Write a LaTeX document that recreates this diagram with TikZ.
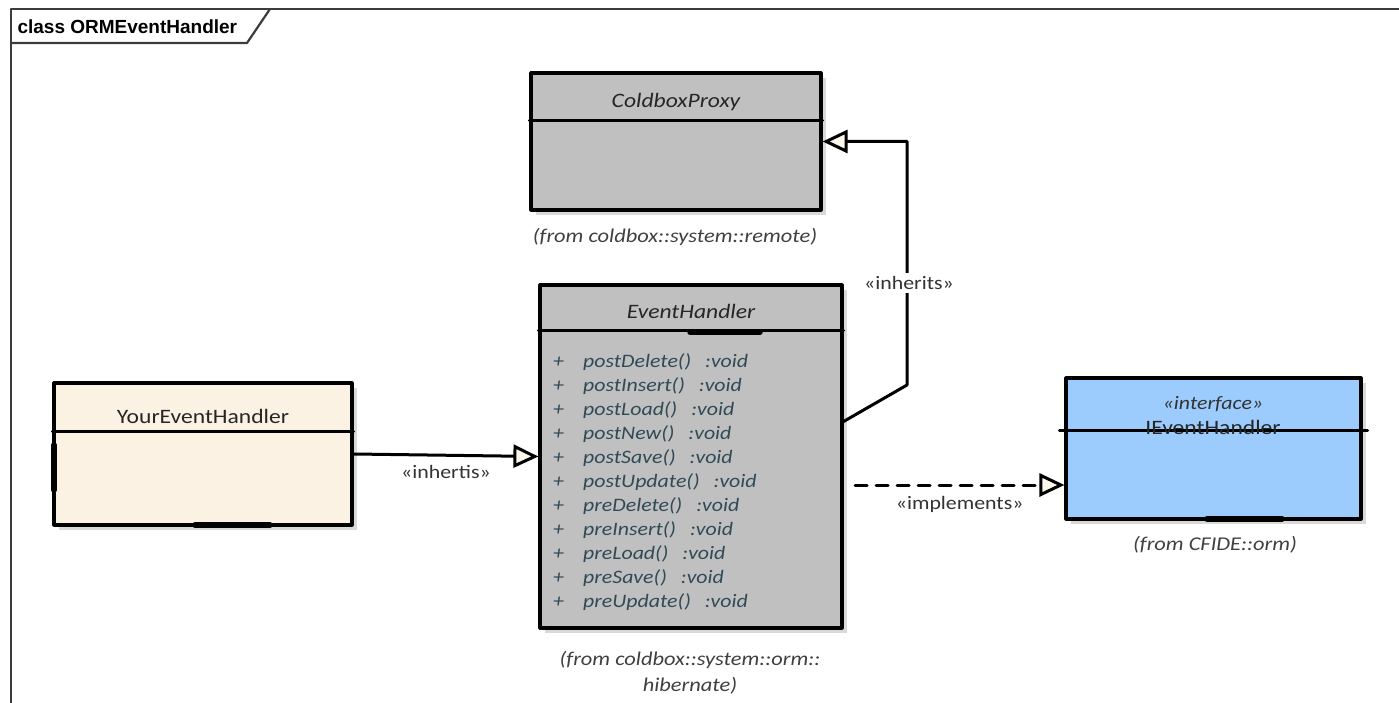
\documentclass[tikz,border=0pt]{standalone}
\usepackage{fontspec}
\setmainfont{Carlito}
\newfontfamily\hand{Carlito}[FakeStretch=1.15]
\newfontfamily\titlefont{Liberation Sans}
\usetikzlibrary{arrows.meta,shadows}

\definecolor{classgray}{RGB}{192,192,192}
\definecolor{classcream}{RGB}{251,242,228}
\definecolor{classblue}{RGB}{156,204,253}
\definecolor{opcolor}{RGB}{48,74,86}
\definecolor{tipfill}{RGB}{252,247,236}
\definecolor{framecol}{RGB}{60,60,60}

\tikzset{
  classbox/.style={draw, line width=3.2pt, inner sep=0pt,
    drop shadow={shadow xshift=5pt, shadow yshift=-5pt, opacity=0.3}},
  divider/.style={line width=2.8pt},
  classname/.style={font=\hand\fontsize{20.5}{22}\selectfont, text=black!85},
  optext/.style={font=\hand\itshape\fontsize{19}{20}\selectfont, text=opcolor, anchor=west, inner sep=0pt},
  fromtext/.style={font=\hand\itshape\fontsize{19.5}{26}\selectfont, text=black!75, align=center},
  stereo/.style={font=\hand\fontsize{19}{21}\selectfont, text=black!80},
  gen/.style={line width=3pt, -{Triangle[length=25pt, width=23pt, fill=tipfill]}},
  smudge/.style={line width=5.5pt}
}

\begin{document}
\begin{tikzpicture}[x=1pt, y=-1pt, line cap=round, line join=round]

  \useasboundingbox (0,0) rectangle (1399,703);

  % frame
  \draw[framecol, line width=2.2pt] (11,703) -- (11,9) -- (1399,9);
  \draw[framecol, line width=2.2pt] (11,43) -- (247,43) -- (270,9);
  \node[anchor=west, font=\titlefont\bfseries\fontsize{19}{21}\selectfont] (title) at (14,27) {class ORMEventHandler};

  % classes
  \node[classbox, fill=classgray, minimum width=290pt, minimum height=137pt] (proxy) at (676,141.5) {};
  \node[classbox, fill=classgray, minimum width=302pt, minimum height=343pt] (handler) at (691,456.5) {};
  \node[classbox, fill=classcream, minimum width=298pt, minimum height=142pt] (yours) at (203,454) {};
  \node[classbox, fill=classblue, minimum width=295pt, minimum height=141pt] (iface) at (1213.5,448.5) {};

  \draw[divider] ([yshift=-49pt]proxy.north west) -- ([yshift=-49pt]proxy.north east);
  \draw[divider] ([yshift=-47pt]handler.north west) -- ([yshift=-47pt]handler.north east);
  \draw[divider] ([yshift=-50pt]yours.north west) -- ([yshift=-50pt]yours.north east);
  \draw[divider] ([xshift=-5pt,yshift=-54pt]iface.north west) -- ([xshift=5pt,yshift=-54pt]iface.north east);

  \draw[smudge] (690,332) -- (760,332);
  \draw[smudge] (195,525) -- (270,525);
  \draw[smudge] (54,445) -- (54,490);
  \draw[smudge] (1207,519) -- (1282,519);

  \node[classname, font=\hand\itshape\fontsize{20.5}{22}\selectfont] (proxyname) at (676,102) {ColdboxProxy};
  \node[classname, font=\hand\itshape\fontsize{20.5}{22}\selectfont] (handlername) at (691,311) {EventHandler};
  \node[classname] (yoursname) at (203,416) {YourEventHandler};
  \node[stereo, font=\hand\itshape\fontsize{19}{21}\selectfont] (ifacestereo) at (1213,404) {«interface»};
  \node[classname] (ifacename) at (1213,427) {IEventHandler};

  % operations
  \foreach \m [count=\i] in {postDelete, postInsert, postLoad, postNew, postSave, postUpdate,
                             preDelete, preInsert, preLoad, preSave, preUpdate}
  {
    \node[optext] (plus\i) at (553,338+24*\i) {+};
    \node[optext] (op\i) at (583,338+24*\i) {\m()\hspace{14pt}:void};
  }

  \node[fromtext] (proxyfrom) at (675,237) {(from coldbox::system::remote)};
  \node[fromtext] (handlerfrom) at (690,673) {(from coldbox::system::orm::\\hibernate)};
  \node[fromtext] (ifacefrom) at (1215,545) {(from CFIDE::orm)};

  % relations
  \draw[gen] (yours.east) -- (handler.west)
    node[midway, below=5pt, stereo] (lbl1) {«inhertis»};

  \coordinate (up) at (907,385);
  \draw[gen] ([yshift=35pt]handler.east) -- (up) |- (proxy.east);
  \node[stereo, fill=white, inner sep=3pt] (lbl2) at (909,283) {«inherits»};

  \coordinate (impl) at (855,485);
  \draw[gen, dashed, dash pattern=on 12pt off 9pt] (impl) -- (impl -| iface.west)
    node[midway, below=6pt, stereo, solid] (lbl3) {«implements»};

\end{tikzpicture}
\end{document}
